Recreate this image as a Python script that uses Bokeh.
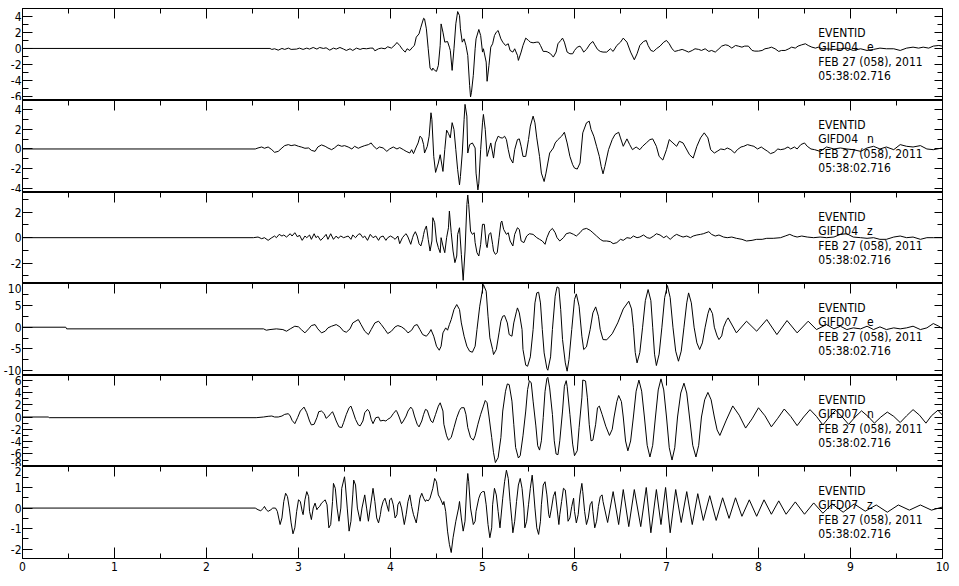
from bokeh.plotting import figure
from bokeh.layouts import column
from bokeh.models import (Range1d, LinearAxis, FixedTicker, Label,
                          CustomLabelingPolicy, CustomJSTickFormatter)
from bokeh.embed import file_html
from bokeh.resources import INLINE

FONT = "DejaVu Sans Condensed"

# ---------------- data (seconds, amplitude) ----------------
t1 = [0, 2.69, 2.71, 2.74, 2.78, 2.82, 2.85, 2.89, 2.92, 2.98, 3.01, 3.05, 3.09, 3.12, 3.16, 3.20, 3.23, 3.27, 3.30, 3.34,
      3.38, 3.41, 3.45, 3.49, 3.52, 3.56, 3.59, 3.63, 3.67, 3.70, 3.74, 3.78, 3.81, 3.83, 3.87, 3.90, 3.94, 3.97, 4.01, 4.05,
      4.07, 4.10, 4.13, 4.16, 4.18, 4.21, 4.24, 4.26, 4.28, 4.31, 4.33, 4.36, 4.37, 4.39, 4.41, 4.43, 4.45, 4.46, 4.48, 4.50,
      4.52, 4.54, 4.55, 4.57, 4.59, 4.62, 4.64, 4.65, 4.67, 4.69, 4.71, 4.73, 4.75, 4.76, 4.78, 4.80, 4.82, 4.84, 4.86, 4.87,
      4.88, 4.90, 4.92, 4.93, 4.96, 4.98, 5.00, 5.01, 5.04, 5.05, 5.07, 5.09, 5.11, 5.13, 5.15, 5.17, 5.20, 5.22, 5.25, 5.28,
      5.30, 5.33, 5.35, 5.38, 5.39, 5.42, 5.44, 5.47, 5.50, 5.52, 5.55, 5.59, 5.61, 5.63, 5.66, 5.69, 5.71, 5.74, 5.77, 5.80,
      5.82, 5.85, 5.87, 5.89, 5.92, 5.95, 5.98, 6.00, 6.03, 6.06, 6.08, 6.10, 6.13, 6.17, 6.20, 6.22, 6.25, 6.28, 6.31, 6.35,
      6.39, 6.42, 6.46, 6.50, 6.53, 6.57, 6.61, 6.65, 6.68, 6.71, 6.75, 6.78, 6.80, 6.83, 6.86, 6.89, 6.93, 6.97, 7.00, 7.03,
      7.06, 7.09, 7.13, 7.17, 7.20, 7.24, 7.28, 7.31, 7.35, 7.38, 7.42, 7.46, 7.49, 7.53, 7.57, 7.60, 7.64, 7.67, 7.71, 7.75,
      7.78, 7.82, 7.85, 7.89, 7.93, 7.96, 8.00, 8.04, 8.07, 8.11, 8.14, 8.18, 8.22, 8.25, 8.29, 8.33, 8.36, 8.40, 8.43, 8.47,
      8.51, 8.54, 8.58, 8.62, 8.65, 8.69, 8.74, 8.82, 8.89, 8.96, 9.03, 9.11, 9.18, 9.25, 9.32, 9.39, 9.47, 9.54, 9.61, 9.68,
      9.74, 9.79, 9.85, 9.90, 9.96, 10.00]
a1 = [0, 0, -0.12, -0.04, -0.21, 0.0, -0.12, 0.04, -0.12, -0.08, 0.04, -0.12, 0.04, -0.08, 0.12, -0.08, 0.12, 0.0, 0.08, -0.21,
      0.04, -0.08, 0.12, -0.08, -0.25, -0.04, -0.25, 0.04, -0.12, 0.0, -0.04, 0.04, 0.04, -0.29, -0.04, 0.04, -0.04, 0.21, 0.04, 0.45,
      0.74, 0.37, -0.12, -0.45, -0.04, -0.25, 0.16, 0.37, 1.40, 1.81, 2.63, 3.74, 3.66, 2.43, -0.04, -2.43, -2.72, -2.43, -2.72, -2.84,
      -2.10, 0.37, 3.04, 2.02, 0.78, 0.86, 0.16, -0.25, -2.72, -0.04, 3.05, 4.57, 4.07, 2.43, 0.78, 1.19, 0.37, -0.86, -4.57, -6.01,
      -5.43, -3.33, -0.04, 1.19, 2.35, 1.60, -0.45, -0.04, -1.69, -4.07, -2.10, 0.16, 0.58, 1.60, 2.02, 2.22, 1.19, 0.78, 0.37, 0.58,
      -0.25, -0.45, -0.04, -0.86, -1.48, -0.45, 0.37, 1.28, 0.99, 0.78, 0.70, 0.78, 0.78, 0.37, -0.37, -0.37, -0.45, -0.66, -1.07, -0.45,
      0.58, 0.99, 1.28, 0.78, -0.45, -0.66, -0.66, -0.25, 0.16, 0.29, -0.04, -0.45, -0.12, 0.58, 0.86, 0.45, -0.12, -0.37, -0.45, -0.45,
      -0.04, -0.37, 0.37, 0.78, 1.28, 0.78, -0.45, -1.40, -0.66, 0.37, 0.86, 0.99, 0.37, -0.25, -0.37, -0.04, 0.29, 0.78, 0.99, 0.58,
      -0.04, -0.37, -0.25, -0.12, -0.25, -0.45, -0.25, -0.04, -0.12, -0.25, -0.04, -0.37, -0.25, -0.45, -0.04, 0.29, 0.45, 0.37, 0.04, 0.37,
      0.29, 0.16, 0.29, 0.29, -0.25, -0.33, -0.33, -0.25, -0.04, 0.04, 0.16, -0.04, -0.37, -0.25, -0.25, -0.04, 0.16, 0.04, 0.29, 0.45,
      0.58, 0.37, 0.16, 0.04, 0.16, -0.04, -0.04, -0.12, -0.04, 0.04, -0.25, -0.04, -0.25, -0.12, 0.04, -0.04, -0.04, -0.25, 0.04, 0.16,
      0.04, 0.16, 0.04, 0.29, 0.37, 0.29]

t2 = [0, 2.53, 2.56, 2.60, 2.63, 2.67, 2.71, 2.74, 2.78, 2.82, 2.85, 2.89, 2.92, 2.96, 3.00, 3.03, 3.07, 3.11, 3.14, 3.18,
      3.21, 3.25, 3.29, 3.32, 3.36, 3.39, 3.43, 3.47, 3.50, 3.54, 3.58, 3.61, 3.65, 3.68, 3.72, 3.76, 3.79, 3.81, 3.85, 3.88,
      3.92, 3.96, 3.99, 4.03, 4.07, 4.10, 4.14, 4.17, 4.21, 4.23, 4.25, 4.28, 4.30, 4.32, 4.34, 4.36, 4.37, 4.40, 4.42, 4.44,
      4.45, 4.47, 4.49, 4.52, 4.54, 4.57, 4.59, 4.61, 4.63, 4.65, 4.67, 4.69, 4.71, 4.73, 4.75, 4.76, 4.78, 4.80, 4.81, 4.83,
      4.84, 4.86, 4.89, 4.92, 4.93, 4.95, 4.96, 4.98, 5.00, 5.01, 5.03, 5.05, 5.07, 5.09, 5.11, 5.12, 5.14, 5.17, 5.20, 5.22,
      5.24, 5.26, 5.28, 5.30, 5.33, 5.35, 5.38, 5.40, 5.42, 5.44, 5.47, 5.50, 5.52, 5.55, 5.57, 5.59, 5.62, 5.64, 5.67, 5.69,
      5.71, 5.73, 5.77, 5.79, 5.82, 5.86, 5.89, 5.92, 5.95, 5.98, 6.00, 6.03, 6.06, 6.09, 6.13, 6.16, 6.18, 6.21, 6.24, 6.27,
      6.29, 6.31, 6.33, 6.37, 6.41, 6.44, 6.48, 6.50, 6.53, 6.57, 6.60, 6.63, 6.67, 6.71, 6.74, 6.78, 6.82, 6.85, 6.89, 6.92,
      6.96, 7.00, 7.03, 7.07, 7.11, 7.14, 7.18, 7.21, 7.25, 7.29, 7.33, 7.37, 7.41, 7.45, 7.48, 7.52, 7.55, 7.59, 7.63, 7.66,
      7.70, 7.74, 7.77, 7.81, 7.84, 7.88, 7.92, 7.95, 7.99, 8.03, 8.06, 8.10, 8.13, 8.17, 8.21, 8.24, 8.28, 8.32, 8.35, 8.39,
      8.42, 8.46, 8.50, 8.53, 8.57, 8.61, 8.67, 8.74, 8.82, 8.89, 8.96, 9.03, 9.11, 9.18, 9.25, 9.32, 9.39, 9.47, 9.54, 9.61,
      9.68, 9.76, 9.83, 9.90, 10.00]
a2 = [0, 0, 0.10, 0.20, 0.07, 0.20, -0.07, -0.34, -0.24, 0.10, 0.34, 0.44, 0.34, 0.41, 0.27, 0.20, 0.07, 0.10, -0.14, -0.24,
      0.20, 0.41, 0.27, 0.10, -0.07, 0.10, 0.41, 0.27, 0.34, 0.20, 0.0, 0.27, 0.07, 0.20, 0.34, 0.44, 0.61, 0.34, 0.0, 0.20,
      0.10, -0.24, 0.0, 0.20, 0.0, 0.14, -0.07, -0.24, -0.41, -0.07, -0.47, 0.20, 0.61, 1.29, 1.12, 0.44, -0.41, 0.27, 1.29, 3.66,
      2.98, -0.75, -2.37, -1.42, -0.58, -2.27, -0.07, 1.90, 1.56, 1.12, 2.66, 1.97, -0.07, -2.10, -3.63, -2.78, -0.41, 2.98, 4.51, 3.32,
      -0.41, 0.44, 0.61, 0.10, -2.44, -4.14, -3.46, -0.07, 2.64, 3.49, 1.97, -0.75, -0.07, 0.61, -0.41, -0.92, 0.61, 1.29, 1.12, 1.12,
      1.29, 0.95, -0.07, -0.92, -1.42, -0.07, 0.95, 1.02, 0.27, -0.75, -0.75, 0.95, 2.31, 3.32, 2.64, 1.12, -0.75, -2.44, -3.29, -2.44,
      -1.42, -0.41, 0.10, 0.61, 0.95, 1.29, 1.69, 0.61, -0.75, -1.59, -1.93, -2.03, -1.42, 1.63, 2.64, 2.81, 1.97, 1.29, 0.27, -0.75,
      -1.76, -2.51, -1.76, -0.07, 0.95, 1.46, 1.69, 1.12, 0.27, 1.02, 0.44, -0.07, 0.20, -0.07, 0.27, 0.61, 0.95, 1.02, 0.27, -0.75,
      -1.12, -0.07, 0.95, 0.61, 0.27, 0.78, 0.61, 0.10, -0.58, -0.92, 0.27, 1.12, 1.63, 1.12, -0.07, -0.41, -0.24, 0.0, -0.07, 0.10,
      -0.07, -0.41, -0.07, 0.20, 0.27, 0.44, 0.34, 0.27, 0.0, 0.20, 0.0, -0.24, -0.47, -0.34, 0.0, -0.07, 0.0, 0.20, 0.0, 0.20,
      0.0, 0.44, 0.61, 0.27, 0.0, -0.07, -0.24, 0.20, 0.0, 0.10, 0.0, -0.07, -0.24, 0.10, 0.27, 0.0, 0.20, -0.07, 0.44, 0.27,
      0.20, 0.34, 0.0, -0.07, 0.10]

t3 = [0, 2.51, 2.56, 2.60, 2.63, 2.67, 2.71, 2.74, 2.76, 2.79, 2.82, 2.84, 2.87, 2.91, 2.93, 2.96, 2.99, 3.01, 3.04, 3.07,
      3.09, 3.12, 3.14, 3.17, 3.19, 3.21, 3.24, 3.27, 3.30, 3.32, 3.35, 3.38, 3.41, 3.43, 3.46, 3.49, 3.51, 3.54, 3.57, 3.59,
      3.62, 3.65, 3.67, 3.70, 3.72, 3.75, 3.78, 3.81, 3.84, 3.87, 3.89, 3.92, 3.95, 3.97, 4.00, 4.03, 4.05, 4.08, 4.10, 4.13,
      4.16, 4.17, 4.19, 4.22, 4.24, 4.25, 4.27, 4.29, 4.31, 4.33, 4.35, 4.36, 4.37, 4.39, 4.41, 4.43, 4.45, 4.46, 4.48, 4.50,
      4.52, 4.54, 4.55, 4.57, 4.59, 4.61, 4.63, 4.64, 4.66, 4.68, 4.70, 4.72, 4.73, 4.75, 4.77, 4.79, 4.81, 4.83, 4.84, 4.85,
      4.87, 4.89, 4.91, 4.92, 4.94, 4.96, 4.98, 5.00, 5.02, 5.04, 5.05, 5.07, 5.09, 5.11, 5.12, 5.14, 5.16, 5.18, 5.20, 5.21,
      5.23, 5.26, 5.28, 5.30, 5.33, 5.35, 5.38, 5.40, 5.42, 5.45, 5.48, 5.51, 5.55, 5.59, 5.62, 5.65, 5.68, 5.70, 5.73, 5.76,
      5.79, 5.81, 5.84, 5.88, 5.91, 5.95, 5.99, 6.02, 6.06, 6.09, 6.13, 6.17, 6.20, 6.24, 6.28, 6.31, 6.35, 6.39, 6.42, 6.46,
      6.50, 6.53, 6.57, 6.61, 6.64, 6.68, 6.71, 6.75, 6.79, 6.82, 6.86, 6.89, 6.93, 6.97, 7.00, 7.04, 7.08, 7.11, 7.15, 7.18,
      7.22, 7.26, 7.29, 7.33, 7.37, 7.40, 7.46, 7.49, 7.53, 7.57, 7.62, 7.66, 7.71, 7.76, 7.82, 7.87, 7.93, 7.98, 8.04, 8.09,
      8.16, 8.24, 8.29, 8.34, 8.38, 8.42, 8.47, 8.53, 8.60, 8.67, 8.74, 8.82, 8.89, 8.96, 9.03, 9.11, 9.18, 9.25, 9.32, 9.39,
      9.47, 9.54, 9.61, 9.68, 9.76, 9.83, 9.90, 10.00]
a3 = [0, 0, 0.05, -0.08, 0, -0.21, 0, 0.13, 0, 0.26, 0.13, 0.21, 0.05, 0.31, 0.13, 0.39, 0.05, 0.21, -0.21, 0.13,
      0, 0.21, -0.13, 0.31, 0, 0.13, -0.21, 0, 0.26, -0.13, 0.31, -0.13, 0.13, -0.05, 0.13, 0, 0.05, 0.13, -0.13, 0.21,
      0, 0.26, 0.31, 0, 0.13, -0.21, 0.26, 0, 0.13, -0.21, 0.05, 0.13, -0.21, 0, 0.13, 0, -0.13, 0.13, -0.47, 0,
      0.26, 0.31, 0.05, -0.52, 0, 0.21, 0.47, 0.13, -0.47, -0.65, -0.13, 0.26, 0.58, 0.92, -0.13, -1.05, -0.26, 1.57, 1.18, -0.26,
      -0.78, -1.18, 0, -0.65, -1.18, 0, 0.78, 2.09, 0.39, -1.05, -1.96, -1.44, 0.26, 0.78, -1.31, -3.35, -1.05, 2.61, 3.35, 2.61,
      0.52, 0.26, 0.39, -0.39, -1.18, -1.44, -0.52, 1.05, 1.05, -0.52, -0.78, 0.26, 0.39, -0.52, -1.05, -1.31, -1.18, 0, 1.18, 1.31,
      0.65, 0.26, 0.39, -0.26, -0.65, 0.26, 0.78, 0.65, -0.26, -0.39, 0.13, 0.31, 0.26, 0, -0.13, -0.26, -0.52, 0, 0.52, 0.73,
      0.39, 0, -0.26, 0, 0.31, 0.39, 0.26, 0.13, 0.39, 0.65, 0.73, 0.58, 0.39, 0.13, -0.13, -0.26, -0.26, -0.31, -0.47, -0.39,
      -0.13, -0.21, 0, -0.05, 0.13, 0, 0.05, 0.21, 0, -0.05, 0.13, 0.31, 0.21, 0, 0.13, -0.13, 0.13, 0.26, 0.13, 0.05,
      0.13, 0, 0.13, 0.21, 0.26, 0.31, 0.47, 0.26, 0.13, 0.21, 0.05, 0, 0.05, -0.05, -0.13, -0.26, -0.21, -0.13, -0.13, -0.05,
      -0.05, 0, 0.13, 0.26, 0.13, 0.05, 0.13, 0.05, 0, 0.05, 0, 0.05, 0.26, 0.31, 0.05, 0, -0.05, 0, -0.13, -0.13,
      0.05, 0.13, 0, 0.05, -0.13, 0, 0, 0]

t4 = [0, 0.47, 0.48, 2.62, 2.65, 2.69, 2.76, 2.83, 2.87, 2.91, 2.96, 3.00, 3.03, 3.07, 3.11, 3.14, 3.18, 3.21, 3.25, 3.29,
      3.32, 3.36, 3.41, 3.45, 3.49, 3.52, 3.56, 3.59, 3.65, 3.68, 3.72, 3.76, 3.79, 3.83, 3.87, 3.90, 3.94, 3.97, 4.01, 4.05,
      4.08, 4.12, 4.16, 4.19, 4.23, 4.26, 4.29, 4.32, 4.35, 4.39, 4.42, 4.44, 4.47, 4.50, 4.53, 4.55, 4.57, 4.60, 4.62, 4.64,
      4.66, 4.69, 4.72, 4.75, 4.77, 4.80, 4.83, 4.86, 4.89, 4.92, 4.94, 4.97, 5.00, 5.01, 5.04, 5.06, 5.08, 5.11, 5.12, 5.15,
      5.18, 5.20, 5.22, 5.24, 5.27, 5.29, 5.32, 5.34, 5.37, 5.38, 5.40, 5.43, 5.44, 5.47, 5.49, 5.52, 5.55, 5.57, 5.59, 5.61,
      5.63, 5.65, 5.67, 5.70, 5.71, 5.74, 5.76, 5.79, 5.81, 5.83, 5.85, 5.87, 5.90, 5.92, 5.94, 5.97, 6.00, 6.02, 6.05, 6.08,
      6.10, 6.13, 6.17, 6.20, 6.23, 6.26, 6.28, 6.31, 6.35, 6.41, 6.47, 6.53, 6.59, 6.62, 6.64, 6.66, 6.68, 6.71, 6.74, 6.77,
      6.80, 6.83, 6.85, 6.87, 6.89, 6.92, 6.95, 6.98, 7.01, 7.04, 7.07, 7.10, 7.13, 7.16, 7.19, 7.22, 7.24, 7.27, 7.30, 7.33,
      7.36, 7.39, 7.42, 7.45, 7.47, 7.50, 7.52, 7.55, 7.57, 7.60, 7.62, 7.65, 7.67, 7.76, 7.87, 7.98, 8.09, 8.20, 8.31, 8.42,
      8.54, 8.63, 8.74, 8.82, 8.89, 8.96, 9.03, 9.11, 9.18, 9.25, 9.32, 9.39, 9.47, 9.54, 9.61, 9.68, 9.76, 9.83, 9.90, 9.96,
      10.00]
a4 = [0, 0, -0.38, -0.38, -0.69, -0.54, -0.38, -0.54, -0.92, -0.38, 0.23, 0.08, -0.54, -1.30, -0.38, 0.38, 0.61, -0.38, -1.30, -0.92,
      -0.15, 0.23, 0.61, 0.08, -0.92, -1.15, -0.38, 0.99, 1.76, 0.61, -0.92, -1.69, -0.54, 0.99, 1.38, 0.61, -0.54, -1.46, -0.92, 0.08,
      0.38, 0.08, -0.54, -1.30, -0.69, 0.38, 0.61, -0.54, -1.69, -2.07, -1.30, -0.54, -2.07, -4.37, -5.29, -4.37, -1.30, -0.15, -0.69, 0.61,
      1.76, 4.06, 5.21, 4.06, 0.99, -2.07, -4.37, -5.52, -5.75, -4.37, -0.54, 4.83, 8.66, 9.81, 8.28, 2.53, -2.45, -5.13, -6.28, -5.13,
      -1.30, 1.38, 2.53, 2.68, 0.99, -1.69, -2.07, 0.99, 3.68, 4.44, 3.30, -0.54, -5.13, -8.74, -8.97, -6.82, -0.54, 5.59, 7.89, 8.05,
      5.59, -0.54, -5.90, -9.50, -9.89, -6.82, -0.54, 7.13, 9.27, 9.04, 4.06, -2.84, -8.20, -10.11, -7.43, -0.54, 6.36, 7.66, 4.83, -2.07,
      -5.13, -4.52, -0.54, 3.30, 4.67, 2.53, -0.54, -2.84, -2.90, -1.5, 1.0, 4.2, 5.98, 4.2, 0, -5.8, -8.20, -5.8, 0, 6.1,
      8.66, 6.1, 0, -6.2, -8.81, -6.2, 0, 6.8, 9.58, 6.8, 0, -5.5, -7.82, -5.5, 0, 5.6, 7.89, 5.6, 0, -3.6,
      -5.13, -3.6, 0, 3.1, 4.44, 3.1, 0, -2.0, -2.84, -2.0, 0, 1.5, 2.15, -1.30, 1.38, -0.92, 1.76, -1.69, 1.53, -1.30,
      1.38, -0.54, 0.61, -0.38, 0.23, -0.54, -0.15, -0.38, 0.23, -0.54, 0.08, -0.54, -0.15, -0.38, -0.15, 0.23, -0.54, -0.15, 0.84, 0.23,
      -0.38]

t5 = [0, 0.28, 0.29, 2.54, 2.62, 2.67, 2.71, 2.74, 2.78, 2.82, 2.85, 2.89, 2.91, 2.93, 2.96, 2.99, 3.02, 3.06, 3.09, 3.12,
      3.14, 3.17, 3.20, 3.22, 3.25, 3.28, 3.30, 3.33, 3.35, 3.37, 3.39, 3.41, 3.44, 3.47, 3.49, 3.52, 3.55, 3.57, 3.59, 3.62,
      3.65, 3.67, 3.70, 3.72, 3.75, 3.77, 3.79, 3.81, 3.84, 3.87, 3.89, 3.92, 3.95, 3.97, 4.00, 4.03, 4.06, 4.07, 4.09, 4.12,
      4.14, 4.17, 4.19, 4.22, 4.24, 4.26, 4.29, 4.31, 4.34, 4.36, 4.38, 4.40, 4.42, 4.44, 4.46, 4.49, 4.52, 4.54, 4.57, 4.58,
      4.61, 4.63, 4.66, 4.69, 4.72, 4.75, 4.77, 4.80, 4.82, 4.84, 4.87, 4.90, 4.92, 4.95, 4.98, 5.01, 5.03, 5.05, 5.07, 5.10,
      5.12, 5.14, 5.17, 5.20, 5.22, 5.25, 5.27, 5.29, 5.32, 5.34, 5.36, 5.39, 5.41, 5.44, 5.47, 5.49, 5.51, 5.53, 5.55, 5.58,
      5.60, 5.62, 5.64, 5.66, 5.68, 5.70, 5.71, 5.73, 5.76, 5.78, 5.80, 5.82, 5.84, 5.87, 5.89, 5.91, 5.92, 5.95, 5.98, 6.00,
      6.03, 6.05, 6.08, 6.09, 6.12, 6.14, 6.16, 6.18, 6.20, 6.23, 6.25, 6.27, 6.30, 6.34, 6.38, 6.41, 6.43, 6.46, 6.48, 6.51,
      6.53, 6.555, 6.58, 6.61, 6.64, 6.67, 6.70, 6.73, 6.76, 6.79, 6.82, 6.85, 6.88, 6.91, 6.94, 6.97, 7.00, 7.03, 7.06, 7.09,
      7.12, 7.155, 7.19, 7.22, 7.25, 7.285, 7.32, 7.35, 7.38, 7.415, 7.45, 7.485, 7.52, 7.55, 7.58, 7.65, 7.72, 7.79, 7.86, 7.93,
      8.00, 8.07, 8.14, 8.21, 8.28, 8.35, 8.42, 8.49, 8.56, 8.63, 8.70, 8.77, 8.84, 8.91, 8.98, 9.05, 9.12, 9.19, 9.26, 9.33,
      9.40, 9.47, 9.54, 9.61, 9.68, 9.75, 9.82, 9.88, 9.95, 10.00]
a5 = [0, 0, -0.11, -0.11, 0, 0.11, 0.16, 0, 0, 0.16, 0.43, 0.54, 0.16, -0.54, -1.08, -0.11, 0.97, 1.61, 0.70, -0.65,
      -1.29, -1.18, -0.11, 0.86, 0.97, 0.54, -0.22, 0.16, 0.54, 0.86, 0.16, -0.65, -1.61, -1.72, -0.91, 0.43, 1.51, 1.77, 0.97, -0.38,
      -1.29, -1.45, -0.65, 0.70, 1.24, 0.86, -0.38, -1.08, -0.11, 0, -0.65, -0.54, -0.65, -0.38, -0.11, 0.54, 1.08, 0.86, 0.16, -1.08,
      -0.65, 0.16, 0.97, 1.61, 1.24, 0.16, -1.18, -1.61, -0.65, 0.43, 1.24, 1.08, 0.16, -0.65, -0.91, 0.43, 1.77, 2.31, 0.97, -1.18,
      -3.06, -3.76, -3.33, -1.72, -0.11, 1.08, 1.51, 1.51, 0.43, -1.72, -3.33, -3.76, -3.06, -1.18, 0.43, 1.77, 2.69, 2.31, 0.16, -3.33,
      -5.81, -7.42, -6.61, -3.33, 0.97, 4.19, 5.38, 5.27, 2.58, -1.18, -4.95, -6.67, -6.29, -3.06, 0.97, 4.46, 5.91, 5.54, 2.58, -1.45,
      -4.68, -5.38, -3.87, -0.11, 4.19, 6.24, 6.45, 4.73, 0.43, -3.87, -6.02, -6.13, -3.87, 0.97, 5.00, 5.91, 5.00, 0.43, -4.41, -6.29,
      -5.48, -1.72, 3.12, 6.02, 5.86, 3.12, -1.18, -3.87, -3.76, -1.18, 1.51, 1.77, 0.43, -1.5, -3.0, -2.0, 0, 2.5, 3.5, 2.5,
      0, -3.9, -5.5, -3.9, 0, 4.2, 6.0, 4.2, 0, -4.6, -6.5, -4.6, 0, 4.4, 6.2, 4.4, 0, -5.0, -7.0, -5.0,
      0, 3.9, 5.5, 3.9, 0, -4.6, -6.5, -4.6, 0, 2.8, 4.0, 2.8, 0, -2.1, -3.0, -0.5, 1.8, 0.3, -1.8, -0.3,
      1.5, 0.2, -1.6, -0.2, 1.3, 0.1, -1.4, 0, 1.2, 0.1, -1.3, 0, 1.1, 0, -1.2, 0, 1.0, 0.1, -1.0, 0,
      0.8, 0.1, -0.9, 0.2, 1.2, 0.3, -1.0, 0.2, 1.1, 0.3]

t6 = [0, 2.53, 2.56, 2.59, 2.62, 2.63, 2.65, 2.67, 2.70, 2.72, 2.75, 2.77, 2.80, 2.82, 2.84, 2.86, 2.88, 2.90, 2.92, 2.94,
      2.96, 2.98, 3.00, 3.02, 3.04, 3.05, 3.07, 3.09, 3.11, 3.12, 3.14, 3.16, 3.18, 3.20, 3.21, 3.23, 3.25, 3.27, 3.29, 3.31,
      3.33, 3.35, 3.37, 3.38, 3.40, 3.42, 3.44, 3.46, 3.47, 3.50, 3.51, 3.53, 3.55, 3.57, 3.59, 3.60, 3.62, 3.64, 3.67, 3.69,
      3.72, 3.74, 3.76, 3.78, 3.80, 3.81, 3.83, 3.85, 3.87, 3.89, 3.90, 3.92, 3.94, 3.96, 3.98, 3.99, 4.01, 4.03, 4.05, 4.07,
      4.08, 4.10, 4.12, 4.15, 4.17, 4.19, 4.21, 4.23, 4.25, 4.28, 4.30, 4.32, 4.34, 4.36, 4.38, 4.39, 4.41, 4.43, 4.46, 4.48,
      4.50, 4.52, 4.54, 4.57, 4.58, 4.60, 4.62, 4.64, 4.66, 4.68, 4.71, 4.74, 4.75, 4.77, 4.79, 4.81, 4.83, 4.84, 4.85, 4.87,
      4.90, 4.92, 4.93, 4.96, 4.98, 5.00, 5.02, 5.04, 5.06, 5.08, 5.10, 5.11, 5.13, 5.15, 5.17, 5.19, 5.20, 5.22, 5.24, 5.26,
      5.28, 5.30, 5.32, 5.33, 5.35, 5.37, 5.39, 5.41, 5.43, 5.45, 5.46, 5.48, 5.50, 5.52, 5.54, 5.55, 5.57, 5.59, 5.61, 5.63,
      5.64, 5.66, 5.68, 5.70, 5.72, 5.73, 5.75, 5.77, 5.79, 5.81, 5.83, 5.84, 5.86, 5.88, 5.90, 5.92, 5.93, 5.95, 5.97, 5.99,
      6.00, 6.02, 6.04, 6.06, 6.08, 6.09, 6.11, 6.13, 6.15, 6.17, 6.19, 6.20, 6.22, 6.24, 6.26, 6.28, 6.30, 6.31, 6.36, 6.42,
      6.48, 6.53, 6.59, 6.65, 6.72, 6.78, 6.83, 6.89, 6.94, 6.99, 7.04, 7.10, 7.16, 7.22, 7.28, 7.34, 7.40, 7.47, 7.54, 7.61,
      7.68, 7.75, 7.82, 7.90, 7.98, 8.06, 8.14, 8.22, 8.30, 8.40, 8.50, 8.60, 8.70, 8.80, 8.92, 9.04, 9.16, 9.28, 9.40, 9.52,
      9.64, 9.76, 9.88, 10.00]
a6 = [0, 0, -0.08, -0.13, 0, 0.08, -0.08, -0.16, -0.08, 0, 0, -0.16, -0.80, -0.48, 0.32, 0.72, 0.56, 0, -0.72, -1.25,
      -0.96, -0.16, 0.40, 0.32, -0.16, -0.32, 0.40, 0.80, 0.56, -0.16, -0.56, 0, 0.24, -0.08, 0, 0.08, 0.24, 0.32, 0.40, 0.16,
      -0.96, -0.80, 0.32, 1.20, 0.96, 0, -0.64, 0, 0.96, 1.52, 1.12, 0, -1.12, -0.64, 0.64, 1.36, 1.12, 0, -0.64, 0,
      0.64, 0, -0.64, 0, 0.64, 0.96, 0.32, -0.48, -0.72, -0.32, 0, 0.32, 0.48, 0.16, -0.16, 0.40, 0.48, 0.16, -0.48, -0.32,
      0.16, 0.32, 0, -0.80, -0.32, 0.32, 0.64, 0.08, -0.32, -0.72, -0.16, 0.48, 0.72, 0.48, 0.32, 0.40, 0.35, 0.48, 0.96, 1.44,
      1.28, 0.64, 0.48, 0.16, 0.32, -0.16, -1.12, -1.76, -2.16, -1.44, -0.64, 0, 0.32, -0.48, -1.12, -0.64, 1.12, 1.68, 1.28, 0,
      -0.80, -0.64, -0.16, 0.48, 0.72, 0.80, 0.80, 0.16, -0.80, -1.44, -0.96, 0.16, 0.96, 0.64, -0.16, -0.96, -0.48, 0.48, 1.28, 1.84,
      1.44, 0.32, -0.64, -1.20, -0.64, 0.32, 1.12, 1.44, 0.96, 0, -0.96, -0.64, 0.16, 0.96, 1.60, 1.12, 0, -0.96, -1.28, -0.64,
      0.16, 1.12, 1.28, 0.64, -0.32, -0.48, 0, 0.56, 0.80, 0, -0.80, -0.32, 0.32, 0.96, 0.88, 0, -0.64, -0.48, 0.08, 0.48,
      -0.16, -0.72, -0.32, 0.64, 1.20, 0.80, -0.16, -0.80, -0.48, 0.16, 0.32, -0.16, -0.96, -0.64, 0.08, 0.56, 0.64, 0.32, -0.7, 0.8,
      -0.8, 0.9, -0.9, 0.9, -0.9, 1.0, -1.2, 0.9, -0.8, 1.0, -1.2, 0.9, -0.7, 0.8, -0.8, 0.7, -0.6, 0.6, -0.6, 0.5,
      -0.5, 0.5, -0.4, 0.4, -0.4, 0.4, -0.3, 0.35, -0.3, 0.3, -0.3, 0.25, -0.25, 0.2, -0.2, 0.2, -0.15, 0.15, -0.2, 0.15,
      -0.1, 0.15, -0.1, 0.05]

stations = ["GIFD04", "GIFD04", "GIFD04", "GIFD07", "GIFD07", "GIFD07"]
components = ["e", "n", "z", "e", "n", "z"]
event_id = "EVENTID"
event_date = "FEB 27 (058), 2011"
event_time = "05:38:02.716"

x_major = [0, 1, 2, 3, 4, 5, 6, 7, 8, 9, 10]
x_minor = [0.5, 1.5, 2.5, 3.5, 4.5, 5.5, 6.5, 7.5, 8.5, 9.5]
y_limits = [(-6.45, 4.95), (-4.4, 4.9), (-3.6, 3.55), (-11.1, 10.05), (-8.05, 6.75), (-2.45, 2.02)]
y_major = [[-6, -4, -2, 0, 2, 4], [-4, -2, 0, 2, 4], [-2, 0, 2], [-10, -5, 0, 5, 10],
           [-8, -6, -4, -2, 0, 2, 4, 6], [-2, -1, 0, 1, 2]]
y_minor = [[-5, -3, -1, 1, 3], [-3, -1, 1, 3], [-3, -1, 1, 3], [-7.5, -2.5, 2.5, 7.5],
           [-7, -5, -3, -1, 1, 3, 5], [-1.5, -0.5, 0.5, 1.5]]

times = [t1, t2, t3, t4, t5, t6]
amps = [a1, a2, a3, a4, a5, a6]

# ---------------- layout ----------------
frame_heights = [92, 92, 91, 92, 91, 92]
row_offsets = [24, 38, 53, 67]      # text rows, px below each panel's top
text_x = 8.65
comp_x = 9.18

HIDE_CODE = "for (const i of indices) { indices.unset(i) }\nreturn indices"
PLAIN_CODE = "return tick.toString()"


def tick_axis(ticks, minor, tin, tmin, labelled, standoff=2):
    kw = dict(ticker=FixedTicker(ticks=ticks, minor_ticks=minor),
              major_tick_in=tin, major_tick_out=0, minor_tick_in=tmin, minor_tick_out=0,
              axis_line_color="black", major_tick_line_color="black",
              minor_tick_line_color="black", axis_line_width=1)
    if labelled:
        kw.update(major_label_standoff=standoff, major_label_text_font=FONT,
                  major_label_text_font_size="12px", major_label_text_color="black",
                  formatter=CustomJSTickFormatter(code=PLAIN_CODE))
    else:
        kw.update(major_label_standoff=0, major_label_text_font_size="0px",
                  major_label_policy=CustomLabelingPolicy(code=HIDE_CODE))
    return LinearAxis(**kw)


x_range = Range1d(0, 10)
figs = []
for i in range(6):
    fh = frame_heights[i]
    p = figure(frame_width=920, frame_height=fh, x_range=x_range,
               y_range=Range1d(*y_limits[i]),
               x_axis_location=None, y_axis_location=None,
               toolbar_location=None, output_backend="svg",
               min_border_left=19, min_border_right=20,
               min_border_top=8 if i == 0 else 0, min_border_bottom=0)
    p.grid.visible = False
    p.outline_line_color = "black"
    p.outline_line_width = 1
    p.background_fill_color = "white"
    p.border_fill_color = "white"

    p.add_layout(tick_axis(x_major, x_minor, 10, 5, False), "above")
    p.add_layout(tick_axis(y_major[i], y_minor[i], 10, 6, True, standoff=1), "left")
    p.add_layout(tick_axis(y_major[i], y_minor[i], 8, 5, False), "right")
    if i == 5:
        p.add_layout(tick_axis(x_major, x_minor, 11, 5, True, standoff=3), "below")
        p.min_border_bottom = 4

    p.line(times[i], amps[i], line_color="black", line_width=1)

    texts = [event_id, stations[i], event_date, event_time]
    for k, txt in enumerate(texts):
        p.add_layout(Label(x=text_x, y=fh - row_offsets[k], y_units="screen", text=txt,
                           text_font=FONT, text_font_size="12px", text_color="black",
                           text_baseline="middle"))
    p.add_layout(Label(x=comp_x, y=fh - row_offsets[1], y_units="screen", text=components[i],
                       text_font=FONT, text_font_size="12px", text_color="black",
                       text_baseline="middle"))
    figs.append(p)

layout = column(*figs, spacing=0)
open("out.html", "w").write(file_html(layout, INLINE))
